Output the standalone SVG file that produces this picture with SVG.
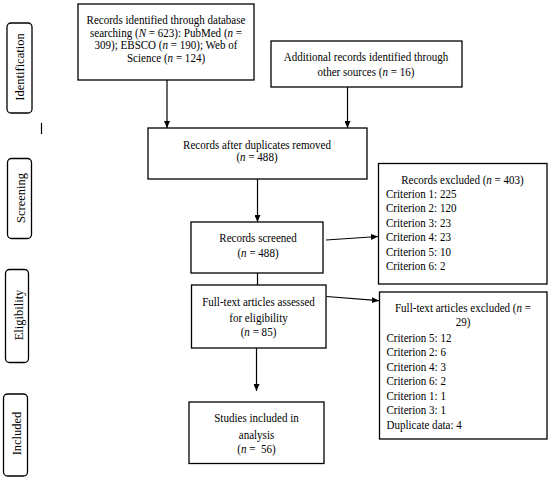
<svg xmlns="http://www.w3.org/2000/svg" width="550" height="482" viewBox="0 0 550 482">
<style>
.box{fill:#fff;stroke:#000;stroke-width:1.3}
.side{fill:#fff;stroke:#000;stroke-width:1.3}
.t{font-family:"Liberation Serif","Times New Roman",serif;font-size:12px;fill:#000}
.c{text-anchor:middle}
.s{font-family:"Liberation Serif","Times New Roman",serif;font-size:12.5px;fill:#000;text-anchor:middle}
.ln{stroke:#000;stroke-width:1.2;fill:none}
.i{font-style:italic}
</style>
<defs>
<marker id="ah" markerWidth="7" markerHeight="6" refX="7" refY="3" orient="auto" markerUnits="userSpaceOnUse">
<path d="M0,0 L7,3 L0,6 Z" fill="#000"/>
</marker>
</defs>
<rect width="550" height="482" fill="#fff"/>

<g id="side-identification">
<rect class="side" x="7" y="23" width="25" height="90" rx="4"/>
<text class="s" transform="translate(24,67) rotate(-90)">Identification</text>
</g>
<g id="side-screening">
<rect class="side" x="7.5" y="158.5" width="24" height="80" rx="4"/>
<text class="s" transform="translate(24.5,198) rotate(-90)">Screening</text>
</g>
<g id="side-eligibility">
<rect class="side" x="5.5" y="269.5" width="23" height="93" rx="4"/>
<text class="s" transform="translate(22.5,315) rotate(-90)">Eligibility</text>
</g>
<g id="side-included">
<rect class="side" x="3.5" y="394" width="24" height="82" rx="4"/>
<text class="s" transform="translate(21,433.5) rotate(-90)">Included</text>
</g>
<g id="mark">
<line class="ln" x1="41.5" y1="123" x2="41.5" y2="134"/>
</g>

<g id="connectors">
<line class="ln" x1="167" y1="80" x2="167" y2="128" marker-end="url(#ah)"/>
<line class="ln" x1="347.5" y1="87" x2="347.5" y2="128" marker-end="url(#ah)"/>
<line class="ln" x1="257.5" y1="179" x2="257.5" y2="222" marker-end="url(#ah)"/>
<line class="ln" x1="257.5" y1="273" x2="257.5" y2="285"/>
<line class="ln" x1="326" y1="240" x2="378" y2="236.5" marker-end="url(#ah)"/>
<line class="ln" x1="326.5" y1="296.5" x2="379" y2="300.7" marker-end="url(#ah)"/>
<line class="ln" x1="256.5" y1="348" x2="256.5" y2="391" marker-end="url(#ah)"/>
</g>

<g id="n-database">
<rect class="box" x="78" y="4" width="176" height="76"/>
<text class="t c" transform="translate(166,24) scale(0.92,1)">Records identified through database</text>
<text class="t c" transform="translate(166,36.5) scale(0.92,1)">searching (<tspan class="i">N</tspan> = 623): PubMed (<tspan class="i">n</tspan> =</text>
<text class="t c" transform="translate(166,49) scale(0.92,1)">309); EBSCO (<tspan class="i">n</tspan> = 190); Web of</text>
<text class="t c" transform="translate(166,61.5) scale(0.92,1)">Science (<tspan class="i">n</tspan> = 124)</text>
</g>

<g id="n-additional">
<rect class="box" x="271" y="41" width="191" height="46"/>
<text class="t c" transform="translate(366,61) scale(0.92,1)">Additional records identified through</text>
<text class="t c" transform="translate(366,76) scale(0.92,1)">other sources (<tspan class="i">n</tspan> = 16)</text>
</g>

<g id="n-duplicates">
<rect class="box" x="148" y="128" width="219" height="51"/>
<text class="t c" transform="translate(257,149) scale(0.92,1)">Records after duplicates removed</text>
<text class="t c" transform="translate(257,161) scale(0.92,1)">(<tspan class="i">n</tspan> = 488)</text>
</g>

<g id="n-screened">
<rect class="box" x="191" y="222" width="132" height="51"/>
<text class="t c" transform="translate(258,242) scale(0.92,1)">Records screened</text>
<text class="t c" transform="translate(258,257) scale(0.92,1)">(<tspan class="i">n</tspan> = 488)</text>
</g>

<g id="n-fulltext">
<rect class="box" x="191.5" y="285" width="134.5" height="63"/>
<text class="t c" transform="translate(258.5,305.5) scale(0.92,1)">Full-text articles assessed</text>
<text class="t c" transform="translate(258.5,321.5) scale(0.92,1)">for eligibility</text>
<text class="t c" transform="translate(258.5,335.5) scale(0.92,1)">(<tspan class="i">n</tspan> = 85)</text>
</g>

<g id="n-included">
<rect class="box" x="189" y="402" width="135" height="61.5"/>
<text class="t c" transform="translate(256.5,422) scale(0.92,1)">Studies included in</text>
<text class="t c" transform="translate(256.5,438.5) scale(0.92,1)">analysis</text>
<text class="t c" transform="translate(256.5,452.5) scale(0.92,1)">(<tspan class="i">n</tspan> = &#160;56)</text>
</g>

<g id="n-records-excluded">
<rect class="box" x="378.5" y="163.5" width="168.5" height="120.5"/>
<text class="t c" transform="translate(462.5,184) scale(0.92,1)">Records excluded (<tspan class="i">n</tspan> = 403)</text>
<text class="t" transform="translate(386,197.5) scale(0.92,1)">Criterion 1: 225</text>
<text class="t" transform="translate(386,212) scale(0.92,1)">Criterion 2: 120</text>
<text class="t" transform="translate(386,226.5) scale(0.92,1)">Criterion 3: 23</text>
<text class="t" transform="translate(386,241) scale(0.92,1)">Criterion 4: 23</text>
<text class="t" transform="translate(386,255.5) scale(0.92,1)">Criterion 5: 10</text>
<text class="t" transform="translate(386,270) scale(0.92,1)">Criterion 6: 2</text>
</g>

<g id="n-fulltext-excluded">
<rect class="box" x="379.5" y="292" width="167.5" height="147"/>
<text class="t c" transform="translate(463,311.5) scale(0.92,1)">Full-text articles excluded (<tspan class="i">n</tspan> =</text>
<text class="t c" transform="translate(463,326) scale(0.92,1)">29)</text>
<text class="t" transform="translate(386.5,341.5) scale(0.92,1)">Criterion 5: 12</text>
<text class="t" transform="translate(386.5,356) scale(0.92,1)">Criterion 2: 6</text>
<text class="t" transform="translate(386.5,370.5) scale(0.92,1)">Criterion 4: 3</text>
<text class="t" transform="translate(386.5,385) scale(0.92,1)">Criterion 6: 2</text>
<text class="t" transform="translate(386.5,399.5) scale(0.92,1)">Criterion 1: 1</text>
<text class="t" transform="translate(386.5,414) scale(0.92,1)">Criterion 3: 1</text>
<text class="t" transform="translate(386.5,428.5) scale(0.92,1)">Duplicate data: 4</text>
</g>
</svg>
